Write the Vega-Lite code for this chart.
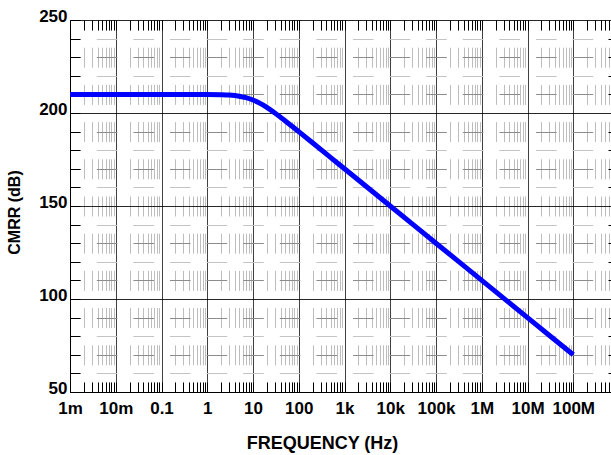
{
  "$schema": "https://vega.github.io/schema/vega-lite/v6.json",
  "width": 541,
  "height": 372,
  "autosize": {"type": "none"},
  "padding": {"left": 70, "top": 20, "right": 0, "bottom": 63},
  "background": "white",
  "config": {"view": {"stroke": null}, "font": "Liberation Sans"},
  "data": {
    "values": [
      {"f": 0.001, "cmrr": 210.0},
      {"f": 0.01, "cmrr": 210.0},
      {"f": 0.1, "cmrr": 210.0},
      {"f": 1, "cmrr": 209.96},
      {"f": 2, "cmrr": 209.83},
      {"f": 3, "cmrr": 209.63},
      {"f": 5, "cmrr": 209.03},
      {"f": 7, "cmrr": 208.27},
      {"f": 10, "cmrr": 206.99},
      {"f": 15, "cmrr": 204.88},
      {"f": 20, "cmrr": 203.01},
      {"f": 30, "cmrr": 200.0},
      {"f": 50, "cmrr": 195.85},
      {"f": 70, "cmrr": 193.01},
      {"f": 100, "cmrr": 189.96},
      {"f": 200, "cmrr": 183.97},
      {"f": 500, "cmrr": 176.02},
      {"f": 1000, "cmrr": 170.0},
      {"f": 10000, "cmrr": 150.0},
      {"f": 100000, "cmrr": 130.0},
      {"f": 1000000, "cmrr": 110.0},
      {"f": 10000000, "cmrr": 90.0},
      {"f": 100000000, "cmrr": 70.0}
    ]
  },
  "resolve": {"axis": {"x": "independent", "y": "independent"}},
  "layer": [
    {
      "mark": {"type": "point", "opacity": 0},
      "encoding": {
        "x": {
          "field": "f", "type": "quantitative",
          "scale": {"type": "log", "domain": [0.001, 668000000], "nice": false},
          "axis": {
            "orient": "top",
            "values": [0.001,0.002,0.003,0.004,0.005,0.006,0.007,0.008,0.009,0.01,0.02,0.03,0.04,0.05,0.06,0.07,0.08,0.09,0.1,0.2,0.3,0.4,0.5,0.6,0.7,0.8,0.9,1,2,3,4,5,6,7,8,9,10,20,30,40,50,60,70,80,90,100,200,300,400,500,600,700,800,900,1000,2000,3000,4000,5000,6000,7000,8000,9000,10000,20000,30000,40000,50000,60000,70000,80000,90000,100000,200000,300000,400000,500000,600000,700000,800000,900000,1000000,2000000,3000000,4000000,5000000,6000000,7000000,8000000,9000000,10000000,20000000,30000000,40000000,50000000,60000000,70000000,80000000,90000000,100000000,200000000,300000000,400000000,500000000,600000000],
            "labels": false, "grid": false, "domain": false, "title": null,
            "tickSize": -10, "tickColor": "black", "tickWidth": 1
          }
        },
        "y": {
          "field": "cmrr", "type": "quantitative",
          "scale": {"domain": [50, 250], "nice": false, "zero": false},
          "axis": {
            "orient": "right",
            "values": [60,70,80,90,110,120,130,140,160,170,180,190,210,220,230,240],
            "labels": false, "grid": false, "domain": false, "title": null,
            "tickSize": -3, "tickColor": "black", "tickWidth": 1
          }
        }
      }
    },
    {
      "mark": {"type": "line", "color": "#0000ff", "strokeWidth": 5, "interpolate": "monotone"},
      "encoding": {
        "x": {
          "field": "f", "type": "quantitative",
          "scale": {"type": "log", "domain": [0.001, 668000000], "nice": false},
          "axis": {
            "orient": "bottom",
            "values": [0.001,0.002,0.003,0.004,0.005,0.006,0.007,0.008,0.009,0.01,0.02,0.03,0.04,0.05,0.06,0.07,0.08,0.09,0.1,0.2,0.3,0.4,0.5,0.6,0.7,0.8,0.9,1,2,3,4,5,6,7,8,9,10,20,30,40,50,60,70,80,90,100,200,300,400,500,600,700,800,900,1000,2000,3000,4000,5000,6000,7000,8000,9000,10000,20000,30000,40000,50000,60000,70000,80000,90000,100000,200000,300000,400000,500000,600000,700000,800000,900000,1000000,2000000,3000000,4000000,5000000,6000000,7000000,8000000,9000000,10000000,20000000,30000000,40000000,50000000,60000000,70000000,80000000,90000000,100000000,200000000,300000000,400000000,500000000,600000000],
            "labelExpr": "abs(log(datum.value)/LN10 - round(log(datum.value)/LN10)) < 0.001 ? ['1m','10m','0.1','1','10','100','1k','10k','100k','1M','10M','100M'][round(log(datum.value)/LN10)+3] : ''",
            "labelFlush": false, "labelOverlap": false, "labelBound": false,
            "labelFont": "Liberation Sans", "labelFontWeight": "bold", "labelFontSize": 17, "labelColor": "#000000",
            "labelBaseline": "top", "labelPadding": 18,
            "tickSize": -10, "tickColor": "black", "tickWidth": 1,
            "domain": true, "domainColor": "black", "domainWidth": 1,
            "grid": true,
            "gridColor": {"condition": {"test": "abs(log(datum.value)/LN10 - round(log(datum.value)/LN10)) < 0.001", "value": "black"}, "value": "#bdbdbd"},
            "gridDash": {"condition": {"test": "abs(log(datum.value)/LN10 - round(log(datum.value)/LN10)) < 0.001", "value": [1, 0]}, "value": [20, 17.2]},
            "gridDashOffset": 10,
            "gridWidth": 1,
            "title": "FREQUENCY (Hz)",
            "titleFont": "Liberation Sans", "titleFontSize": 18, "titleFontWeight": "bold", "titleColor": "#000000",
            "titleX": 252, "titleY": 56, "titleAlign": "center", "titleBaseline": "alphabetic"
          }
        },
        "y": {
          "field": "cmrr", "type": "quantitative",
          "scale": {"domain": [50, 250], "nice": false, "zero": false},
          "axis": {
            "orient": "left",
            "values": [50,60,70,80,90,100,110,120,130,140,150,160,170,180,190,200,210,220,230,240,250],
            "labelExpr": "datum.value % 50 === 0 ? datum.label : ''",
            "labelFont": "Liberation Sans", "labelFontWeight": "bold", "labelFontSize": 17, "labelColor": "#000000",
            "labelPadding": 13, "labelOffset": -4, "labelOverlap": false, "labelBound": false, "labelFlush": false,
            "tickSize": -10, "tickColor": "black", "tickWidth": 1,
            "domain": true, "domainColor": "black", "domainWidth": 1,
            "grid": true,
            "gridColor": {"condition": [{"test": "datum.value % 50 === 0", "value": "black"}, {"test": "(datum.value / 10) % 2 === 1", "value": "#8c8c8c"}], "value": "#c4c4c4"},
            "gridDash": {"condition": {"test": "datum.value % 50 === 0", "value": [1, 0]}, "value": [20.6, 16]},
            "gridDashOffset": 10.3,
            "gridWidth": 1,
            "title": "CMRR (dB)",
            "titleFont": "Liberation Sans", "titleFontSize": 16, "titleFontWeight": "bold", "titleColor": "#000000",
            "titleAngle": 270, "titleX": -51, "titleY": 192, "titleAlign": "center", "titleBaseline": "alphabetic"
          }
        }
      }
    }
  ]
}
